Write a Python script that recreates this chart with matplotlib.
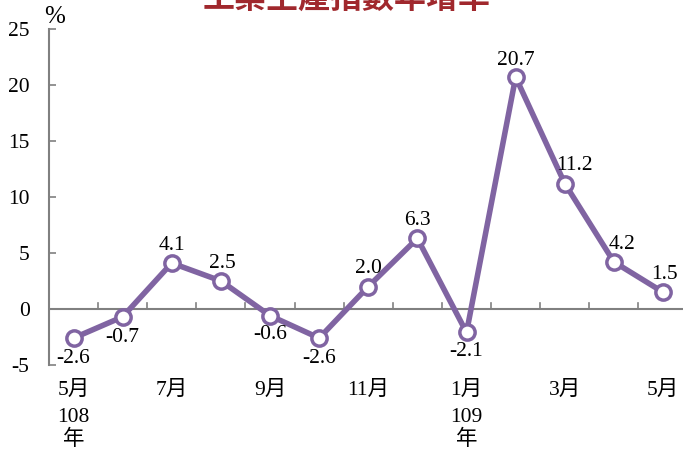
import matplotlib.pyplot as plt

plt.rcParams['font.family'] = ['Liberation Serif', 'Noto Sans CJK TC']

months = ['5月', '6月', '7月', '8月', '9月', '10月', '11月', '12月',
          '1月', '2月', '3月', '4月', '5月']
values = [-2.6, -0.7, 4.1, 2.5, -0.6, -2.6, 2.0, 6.3, -2.1, 20.7, 11.2, 4.2, 1.5]
# label offsets in points from each marker
label_dx = [0, 0, 0, 1, 0, 0, 0, 0, 0, 0, 7, 6, 1]
label_dy = [-8, -8, 6, 6, -7, -8, 6, 6, -7, 5, 6, 6, 6]
shown_months = [0, 2, 4, 6, 8, 10, 12]
year_marks = {0: '108\n年', 8: '109\n年'}

purple = '#8064A2'
fs = 15.5

fig = plt.figure(figsize=(6.83, 4.5), dpi=100)
ax = fig.add_axes([0.0717, 0.189, 0.935, 0.7466])

xs = [i + 0.5 for i in range(len(values))]
ax.plot(xs, values, color=purple, lw=4, marker='o', ms=11,
        mfc='white', mec=purple, mew=2.5, zorder=3, clip_on=False)

for x, v, dx, dy in zip(xs, values, label_dx, label_dy):
    ax.annotate(f'{v:.1f}', (x, v), xytext=(dx, dy), textcoords='offset points',
                ha='center', va='bottom' if dy > 0 else 'top', fontsize=fs)

ax.set_xlim(0, len(values))
ax.set_ylim(-5, 25)
ax.set_yticks(range(-5, 30, 5))
ax.set_yticklabels([str(t) for t in range(-5, 30, 5)], fontsize=fs)

for s in ['top', 'right', 'bottom']:
    ax.spines[s].set_visible(False)
ax.spines['left'].set_color('#808080')
ax.spines['left'].set_linewidth(1.5)
ax.axhline(0, color='#808080', lw=1.5, zorder=1)
ax.tick_params(axis='y', direction='in', length=5, color='#808080', width=1.2, pad=14)

# category ticks on the zero line, pointing up
for k in range(1, len(values) + 1):
    ax.plot([k, k], [0, 0.5], color='#808080', lw=1.2, zorder=1, clip_on=False)
ax.set_xticks([])

for i in shown_months:
    ax.text(xs[i], -6.4, months[i], ha='center', va='top', fontsize=fs)
for i, t in year_marks.items():
    ax.text(xs[i], -8.8, t, ha='center', va='top', fontsize=fs, linespacing=1.2)

ax.text(-0.1, 25.1, '%', fontsize=18, ha='left', va='bottom')

fig.text(0.508, 1.0, '工業生產指數年增率', ha='center', va='center',
         fontsize=23, color='#A0282D', fontweight='bold', family='Noto Sans CJK TC')

fig.savefig('out.png', dpi=100)
